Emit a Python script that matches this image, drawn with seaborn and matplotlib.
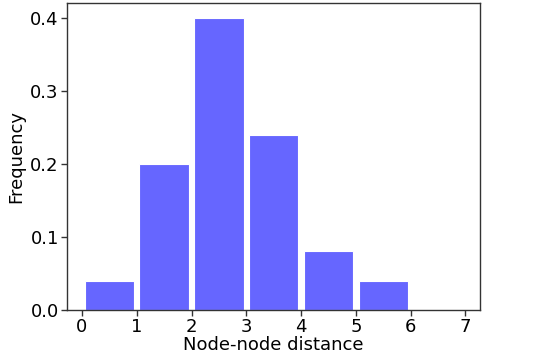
import numpy as np
import pandas as pd
import matplotlib
matplotlib.use("Agg")
import matplotlib.pyplot as plt
import seaborn as sns

# Histogram of node-node distances (normalized frequency)
distance = [0, 1, 2, 3, 4, 5, 6]
frequency = [0.04, 0.20, 0.40, 0.24, 0.08, 0.04, 0.0]
bin_edges = [0, 1, 2, 3, 4, 5, 6, 7]

df = pd.DataFrame({"distance": distance, "frequency": frequency})

sns.set_style("ticks")
plt.rcParams['font.family'] = ['DejaVu Sans']
plt.rcParams['text.color'] = 'black'
plt.rcParams['axes.labelcolor'] = 'black'
plt.rcParams['xtick.color'] = 'black'
plt.rcParams['ytick.color'] = 'black'

fig = plt.figure(figsize=(5.33, 3.54), dpi=100)
ax = fig.add_axes([0.126, 0.125, 0.774, 0.866])

sns.histplot(data=df, x="distance", weights="frequency", bins=bin_edges,
             shrink=0.9, color="#6666ff", alpha=1.0, edgecolor="white",
             linewidth=0.8, ax=ax)

ax.set_xlim(-0.27, 7.26)
ax.set_ylim(0, 0.42)
ax.set_xticks(range(8))
ax.set_yticks([0.0, 0.1, 0.2, 0.3, 0.4])
ax.set_xlabel("Node-node distance", fontsize=13, labelpad=0)
ax.set_ylabel("Frequency", fontsize=13, labelpad=4)
ax.tick_params(labelsize=13, length=4, width=1, pad=2, color="#333333")
for s in ax.spines.values():
    s.set_visible(True)
    s.set_color("#333333")
    s.set_linewidth(1)

plt.savefig("out.png", dpi=100)
plt.close()
